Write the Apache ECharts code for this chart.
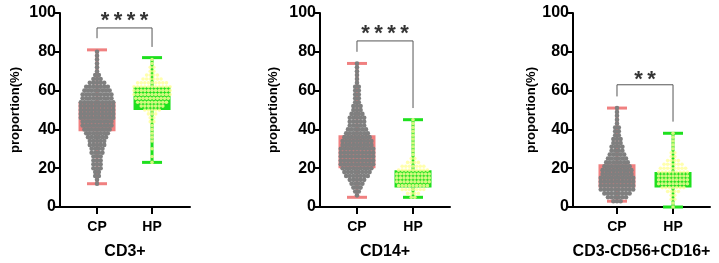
<!DOCTYPE html>
<html><head><meta charset="utf-8">
<script src="https://cdn.jsdelivr.net/npm/echarts@6/dist/echarts.min.js"></script>
<style>html,body{margin:0;padding:0;background:#fff}#c{width:719px;height:263px}</style>
</head><body><div id="c"></div>
<script>
const groups = ['CP', 'HP'];
const panelTitles = ['CD3+', 'CD14+', 'CD3-CD56+CD16+'];
const yTicks = [0, 20, 40, 60, 80, 100];

// box stats: [min, Q1, median, Q3, max] for CP, HP
const boxCD3 = [[12, 39, 46, 54, 81], [23, 50, 56, 62, 77]];
const boxCD14 = [[5, 20, 27, 37, 74], [5, 10, 15, 19, 45]];
const boxNK = [[3, 10, 15, 22, 51], [0, 10, 14, 18, 38]];

// swarm density: [value, number of dots at that level]
const swarmCD3CP = [[12,1],[14,1],[16,2],[18,2],[20,3],[22,3],[24,3],[26,3],[28,4],[30,4],[32,5],[34,5],[36,6],[38,7],[40,8],[42,9],[44,9],[46,10],[48,10],[50,10],[52,10],[54,10],[56,9],[58,9],[60,8],[62,7],[64,5],[66,3],[68,2],[70,1],[72,1],[74,1],[76,1],[78,1],[80,1]];
const swarmCD3HP = [[23,1],[26,1],[30,1],[34,1],[36,1],[38,1],[40,1],[42,1],[44,2],[46,2],[48,3],[50,5],[52,7],[54,9],[56,10],[58,11],[60,11],[62,11],[64,9],[66,6],[68,4],[70,2],[72,2],[74,1],[76,1]];
const swarmCD14CP = [[6,1],[8,2],[10,3],[12,4],[14,5],[16,7],[18,8],[20,9],[22,10],[24,10],[26,10],[28,10],[30,10],[32,9],[34,9],[36,8],[38,7],[40,6],[42,5],[44,5],[46,5],[48,4],[50,3],[52,3],[54,2],[56,2],[58,2],[60,2],[62,2],[64,1],[66,1],[68,1],[70,1],[72,1],[74,1]];
const swarmCD14HP = [[5,2],[7,4],[9,7],[11,9],[13,10],[15,10],[17,10],[19,9],[21,7],[23,4],[25,2],[27,1],[29,1],[31,1],[33,1],[35,1],[37,1],[39,1],[41,1],[43,1],[45,1]];
const swarmNKCP = [[3,3],[5,6],[7,8],[9,10],[11,10],[13,10],[15,10],[17,9],[19,9],[21,8],[23,7],[25,6],[27,5],[29,4],[31,4],[33,3],[35,3],[37,2],[39,2],[41,2],[43,1],[45,1],[47,1],[49,1],[51,1]];
const swarmNKHP = [[0,1],[2,1],[4,2],[6,2],[8,4],[10,7],[12,9],[14,9],[16,9],[18,9],[20,8],[22,6],[24,4],[26,2],[28,2],[30,1],[32,1],[34,1],[36,1],[38,1]];

// significance: stars, bracket [left foot, top, right foot], star level
const sigStars = ['*\u2009*\u2009*\u2009*', '*\u2009*\u2009*\u2009*', '*\u2009*'];
const sigBracket = [[87, 92.3, 82.5], [80, 85.6, 51], [57, 63, 44]];
const sigLabelY = [96, 89, 65.5];

const boxes = [boxCD3, boxCD14, boxNK];
const swarmsCP = [swarmCD3CP, swarmCD14CP, swarmNKCP];
const swarmsHP = [swarmCD3HP, swarmCD14HP, swarmNKHP];

const CP_COLOR = '#F08080', HP_COLOR = '#1EE01E', DOT_GRAY = '#7f7f7f', DOT_YEL = '#FFFF99';
const FONT = 'Liberation Sans, Arial, sans-serif';

const gridsDef = [
  {left: 60, top: 13, width: 130, height: 194, xmin: 0.327, xmax: 2.69, nameGap: 38},
  {left: 320, top: 13, width: 130, height: 194, xmin: 0.34, xmax: 2.66, nameGap: 40},
  {left: 573, top: 13, width: 137, height: 194, xmin: 0.215, xmax: 2.66, nameGap: 33}
];

function swarm(bins, center, dx) {
  const pts = [];
  bins.forEach(([v, n]) => {
    for (let i = 0; i < n; i++) pts.push([center + (i - (n - 1) / 2) * dx, v]);
  });
  return pts;
}

const grid = [], xAxis = [], yAxis = [], series = [];
gridsDef.forEach((g, k) => {
  grid.push({left: g.left, top: g.top, width: g.width, height: g.height, containLabel: false, outerBoundsMode: 'none'});
  xAxis.push({
    type: 'value', gridIndex: k, min: g.xmin, max: g.xmax,
    name: panelTitles[k], nameLocation: 'middle', nameGap: 37,
    nameTextStyle: {fontFamily: FONT, fontWeight: 'bold', fontSize: 16, color: '#000'},
    splitLine: {show: false},
    axisLine: {lineStyle: {color: '#000', width: 2}},
    axisTick: {customValues: [1, 2], length: 7, lineStyle: {color: '#000', width: 2}},
    axisLabel: {customValues: [1, 2], formatter: v => groups[Math.round(v) - 1], margin: 13,
      fontFamily: FONT, fontWeight: 'bold', fontSize: 14, color: '#000'}
  });
  yAxis.push({
    type: 'value', gridIndex: k, min: 0, max: 100, interval: 20,
    name: 'proportion(%)', nameLocation: 'middle', nameGap: g.nameGap, nameRotate: 90,
    nameTextStyle: {fontFamily: FONT, fontWeight: 'bold', fontSize: 13, color: '#000'},
    splitLine: {show: false},
    axisLine: {show: true, lineStyle: {color: '#000', width: 2}},
    axisTick: {show: true, length: 5, lineStyle: {color: '#000', width: 2}},
    axisLabel: {fontFamily: FONT, fontWeight: 'bold', fontSize: 16, color: '#000', margin: 4}
  });
  const pxPerUnit = g.width / (g.xmax - g.xmin);
  series.push({
    type: 'custom', xAxisIndex: k, yAxisIndex: k, z: 1, silent: true,
    data: boxes[k].map((b, i) => ({value: [i + 1, ...b], itemStyle: {color: i === 0 ? CP_COLOR : HP_COLOR}})),
    renderItem(params, api) {
      const x = api.value(0);
      const pMin = api.coord([x, api.value(1)]), pQ1 = api.coord([x, api.value(2)]);
      const pQ3 = api.coord([x, api.value(4)]), pMax = api.coord([x, api.value(5)]);
      const color = api.visual('color');
      const bw = 37, cw = 20, cx = pQ1[0];
      const ln = (x1, y1, x2, y2) => ({type: 'line', shape: {x1, y1, x2, y2}, style: {stroke: color, lineWidth: 3}});
      return {type: 'group', children: [
        {type: 'rect', shape: {x: cx - bw / 2, y: pQ3[1], width: bw, height: pQ1[1] - pQ3[1]}, style: {fill: color}},
        ln(cx, pMax[1], cx, pQ3[1]), ln(cx, pQ1[1], cx, pMin[1]),
        ln(cx - cw / 2, pMax[1], cx + cw / 2, pMax[1]), ln(cx - cw / 2, pMin[1], cx + cw / 2, pMin[1])
      ]};
    }
  });
  series.push({
    type: 'scatter', xAxisIndex: k, yAxisIndex: k, z: 2, silent: true,
    symbolSize: 4.6, itemStyle: {color: DOT_GRAY, opacity: 1},
    data: swarm(swarmsCP[k], 1, 3.6 / pxPerUnit)
  });
  series.push({
    type: 'scatter', xAxisIndex: k, yAxisIndex: k, z: 2, silent: true,
    symbolSize: 3.6, itemStyle: {color: DOT_YEL, opacity: 0.8},
    data: swarm(swarmsHP[k], 2, 3.6 / pxPerUnit)
  });
  const br = sigBracket[k];
  series.push({
    type: 'line', xAxisIndex: k, yAxisIndex: k, z: 3, silent: true, symbol: 'none',
    lineStyle: {color: '#555', width: 1},
    data: [[1, br[0]], [1, br[1]], [2, br[1]], [2, br[2]]]
  });
  series.push({
    type: 'scatter', xAxisIndex: k, yAxisIndex: k, z: 3, silent: true, symbolSize: 0,
    data: [[1.5, sigLabelY[k]]],
    label: {show: true, position: 'inside', formatter: sigStars[k],
      fontFamily: FONT, fontWeight: 'bold', fontSize: 22, color: '#000'}
  });
});

const chart = echarts.init(document.getElementById('c'));
chart.setOption({animation: false, backgroundColor: '#fff', grid, xAxis, yAxis, series});
</script>
</body></html>
